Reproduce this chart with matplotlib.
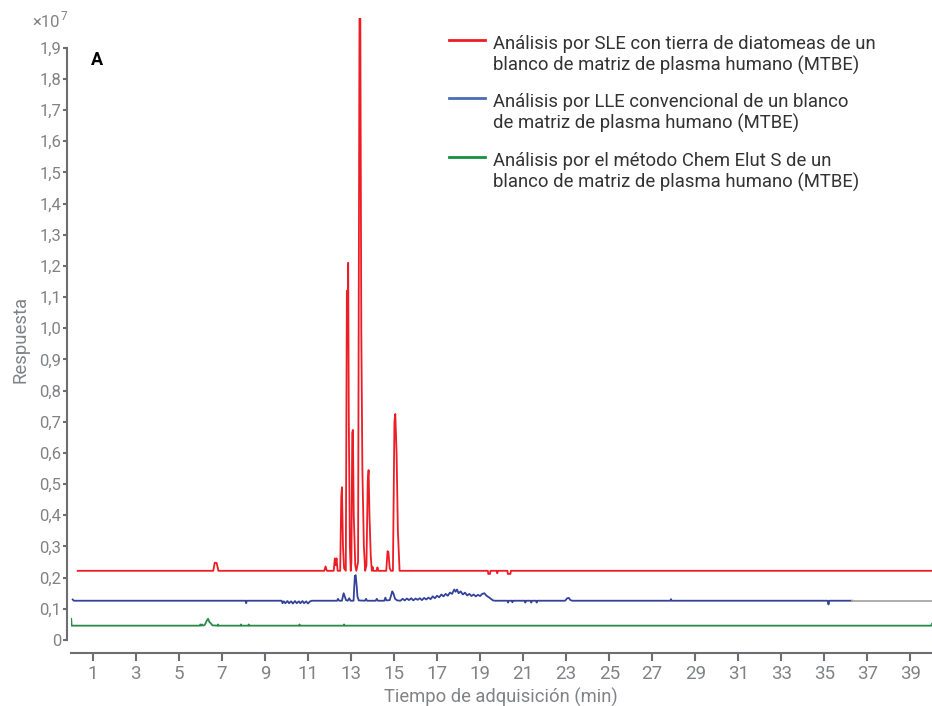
import matplotlib
matplotlib.use("Agg")
import matplotlib.pyplot as plt
from matplotlib.lines import Line2D

plt.rcParams["font.family"] = ["Roboto", "DejaVu Sans"]

# response values are in units of 1e7
red_t = [0.3, 6.6, 6.67, 6.76, 6.84,
         11.76, 11.82, 11.88, 12.2, 12.25, 12.29, 12.33, 12.38,
         12.5, 12.55, 12.58, 12.63, 12.68,
         12.76, 12.81, 12.84, 12.87, 12.9, 12.95, 12.99,
         13.02, 13.06, 13.09, 13.13, 13.2, 13.25,
         13.33, 13.4, 13.43, 13.48, 13.53, 13.6, 13.66,
         13.72, 13.78, 13.82, 13.86, 13.92, 13.97,
         14.0, 14.04, 14.2, 14.23, 14.27,
         14.64, 14.7, 14.74, 14.8, 14.86,
         14.95, 15.02, 15.06, 15.12, 15.18, 15.26,
         19.36, 19.38, 19.46, 19.48, 19.78, 19.8, 19.82,
         20.27, 20.29, 20.41, 20.43, 40.0]
red_v = [0.222, 0.222, 0.248, 0.247, 0.222,
         0.222, 0.236, 0.222, 0.222, 0.262, 0.24, 0.262, 0.222,
         0.222, 0.46, 0.49, 0.3, 0.23,
         0.222, 1.12, 1.0, 1.21, 0.7, 0.3, 0.222,
         0.25, 0.665, 0.674, 0.4, 0.24, 0.222,
         0.25, 2.1, 2.1, 1.0, 0.55, 0.3, 0.222,
         0.24, 0.51, 0.545, 0.4, 0.27, 0.222,
         0.235, 0.222, 0.222, 0.233, 0.222,
         0.222, 0.285, 0.283, 0.23, 0.222,
         0.222, 0.7, 0.725, 0.6, 0.35, 0.222,
         0.222, 0.212, 0.212, 0.222, 0.222, 0.214, 0.222,
         0.222, 0.212, 0.212, 0.222, 0.222]

blue_t = [0.07, 0.12, 8.1, 8.13, 8.16,
          9.78, 9.82, 9.88, 9.95, 10.05, 10.12, 10.22, 10.3, 10.4, 10.48,
          10.58, 10.65, 10.75, 10.82, 10.92, 11.0, 11.1, 11.18,
          12.35, 12.4, 12.45, 12.58, 12.66, 12.71, 12.77, 12.85, 12.92, 12.98,
          13.12, 13.18, 13.22, 13.27, 13.3, 13.36,
          13.65, 13.7, 13.75, 14.15, 14.2, 14.25, 14.55, 14.6, 14.65,
          14.8, 14.92, 14.97, 15.05, 15.15,
          15.3, 15.4, 15.5, 15.6, 15.7, 15.8, 15.9, 16.0, 16.1, 16.2,
          16.3, 16.4, 16.5, 16.6, 16.7, 16.8, 16.9, 17.0, 17.1, 17.2,
          17.3, 17.4, 17.5, 17.6, 17.7, 17.8, 17.86, 17.93, 18.0, 18.1,
          18.2, 18.3, 18.4, 18.5, 18.6, 18.7, 18.8, 18.9, 19.0, 19.1,
          19.2, 19.3, 19.45, 19.6, 19.7,
          20.28, 20.3, 20.33, 20.48, 20.5, 20.53,
          21.08, 21.1, 21.14, 21.35, 21.38, 21.41, 21.6, 21.63, 21.66,
          22.95, 23.05, 23.12, 23.2, 23.28,
          27.84, 27.87, 27.9, 35.15, 35.19, 35.23, 36.3]
blue_v = [0.13, 0.126, 0.126, 0.118, 0.126,
          0.126, 0.118, 0.124, 0.118, 0.125, 0.118, 0.124, 0.117, 0.125, 0.118,
          0.124, 0.118, 0.125, 0.118, 0.124, 0.117, 0.124, 0.126,
          0.126, 0.132, 0.126, 0.126, 0.15, 0.14, 0.128, 0.126, 0.134, 0.126,
          0.126, 0.205, 0.208, 0.17, 0.14, 0.127,
          0.126, 0.132, 0.126, 0.126, 0.132, 0.126, 0.126, 0.136, 0.127,
          0.128, 0.156, 0.15, 0.132, 0.127,
          0.126, 0.132, 0.127, 0.133, 0.128, 0.134, 0.127, 0.133, 0.129, 0.134,
          0.128, 0.135, 0.13, 0.136, 0.131, 0.14, 0.134, 0.142, 0.137, 0.146,
          0.14, 0.148, 0.142, 0.152, 0.148, 0.162, 0.155, 0.162, 0.15, 0.156,
          0.146, 0.152, 0.143, 0.148, 0.141, 0.146, 0.14, 0.145, 0.141, 0.148,
          0.15, 0.142, 0.135, 0.127, 0.126,
          0.126, 0.12, 0.126, 0.126, 0.121, 0.126,
          0.126, 0.12, 0.126, 0.126, 0.12, 0.126, 0.126, 0.12, 0.126,
          0.126, 0.134, 0.135, 0.128, 0.126,
          0.126, 0.131, 0.126, 0.126, 0.114, 0.126, 0.126]

tail_t = [36.3, 40.0]
tail_v = [0.126, 0.126]

green_t = [0.0, 0.02, 5.98, 6.0, 6.04, 6.08, 6.12,
           6.2, 6.3, 6.36, 6.42, 6.48, 6.56,
           6.8, 6.82, 6.84, 7.87, 7.89, 7.91, 8.23, 8.25, 8.27,
           10.59, 10.61, 10.63, 12.66, 12.68, 12.7, 39.97, 40.0]
green_v = [0.068, 0.046, 0.046, 0.05, 0.046, 0.05, 0.046,
           0.048, 0.062, 0.068, 0.058, 0.054, 0.047,
           0.046, 0.05, 0.046, 0.046, 0.05, 0.046, 0.046, 0.05, 0.046,
           0.046, 0.05, 0.046, 0.046, 0.05, 0.046, 0.046, 0.052]

legend_labels = [
    "Análisis por SLE con tierra de diatomeas de un\nblanco de matriz de plasma humano (MTBE)",
    "Análisis por LLE convencional de un blanco\nde matriz de plasma humano (MTBE)",
    "Análisis por el método Chem Elut S de un\nblanco de matriz de plasma humano (MTBE)",
]
legend_colors = ["#ee1c25", "#4a6db5", "#17903f"]

x_ticks = list(range(1, 40, 2))
y_ticks = [i / 10 for i in range(20)]

W, H = 932, 706
SPINE = "#6d6e71"
TICK_TXT = "#808285"

fig = plt.figure(figsize=(W / 100, H / 100), dpi=100)
ax = fig.add_axes([71.2 / W, 1 - 653 / H, (W - 71.2) / W, (653 - 18) / H])

ax.plot(red_t, red_v, color="#ee1c25", lw=1.3)
ax.plot(blue_t, blue_v, color="#33439a", lw=1.3)
ax.plot(tail_t, tail_v, color="#a7a7a7", lw=1.3)
ax.plot(green_t, green_v, color="#2a8a4a", lw=1.3)

ax.set_xlim(0, 40)
ax.set_ylim(-13 / 311.7, 622 / 311.7)

ax.spines["top"].set_visible(False)
ax.spines["right"].set_visible(False)
for s in ("left", "bottom"):
    ax.spines[s].set_color(SPINE)
    ax.spines[s].set_linewidth(1.5)
ax.spines["left"].set_position(("outward", 3))
ax.spines["left"].set_bounds(0, 1.9)

ax.set_xticks(x_ticks)
ax.set_xticklabels([str(t) for t in x_ticks])
ax.set_yticks(y_ticks)
ax.set_yticklabels(["0" if v == 0 else f"{v:.1f}".replace(".", ",") for v in y_ticks])
ax.tick_params(axis="x", direction="out", length=5.5, width=1.5, color=SPINE,
               labelsize=13.5, labelcolor=TICK_TXT, pad=3)
ax.tick_params(axis="y", direction="out", length=3, width=1.5, color=SPINE,
               labelsize=12, labelcolor=TICK_TXT, pad=1)

fig.text(501 / W, 1 - 703 / H, "Tiempo de adquisición (min)", ha="center",
         va="baseline", fontsize=13.2, color=TICK_TXT)
fig.text(21 / W, 1 - 339 / H, "Respuesta", rotation=90, ha="center",
         va="center", fontsize=13.3, color=TICK_TXT)
fig.text(60 / W, 1 - 26.7 / H, "×10", ha="right", va="baseline",
         fontsize=12, color=TICK_TXT)
fig.text(61 / W, 1 - 19.5 / H, "7", ha="left", va="baseline",
         fontsize=8.5, color=TICK_TXT)
fig.text(91 / W, 1 - 65 / H, "A", ha="left", va="baseline",
         fontsize=13, fontweight="bold", color="black")

# legend drawn by hand: line sits at the first text row
for i, (label, color) in enumerate(zip(legend_labels, legend_colors)):
    base = 49 + i * 58.3
    fig.add_artist(Line2D([449 / W, 485 / W], [1 - (base - 9) / H] * 2,
                          transform=fig.transFigure, color=color, lw=2))
    for j, row in enumerate(label.split("\n")):
        fig.text(493 / W, 1 - (base + j * 21.7) / H, row, ha="left",
                 va="baseline", fontsize=13.3, color="#333333")

fig.savefig("out.png", dpi=100)
